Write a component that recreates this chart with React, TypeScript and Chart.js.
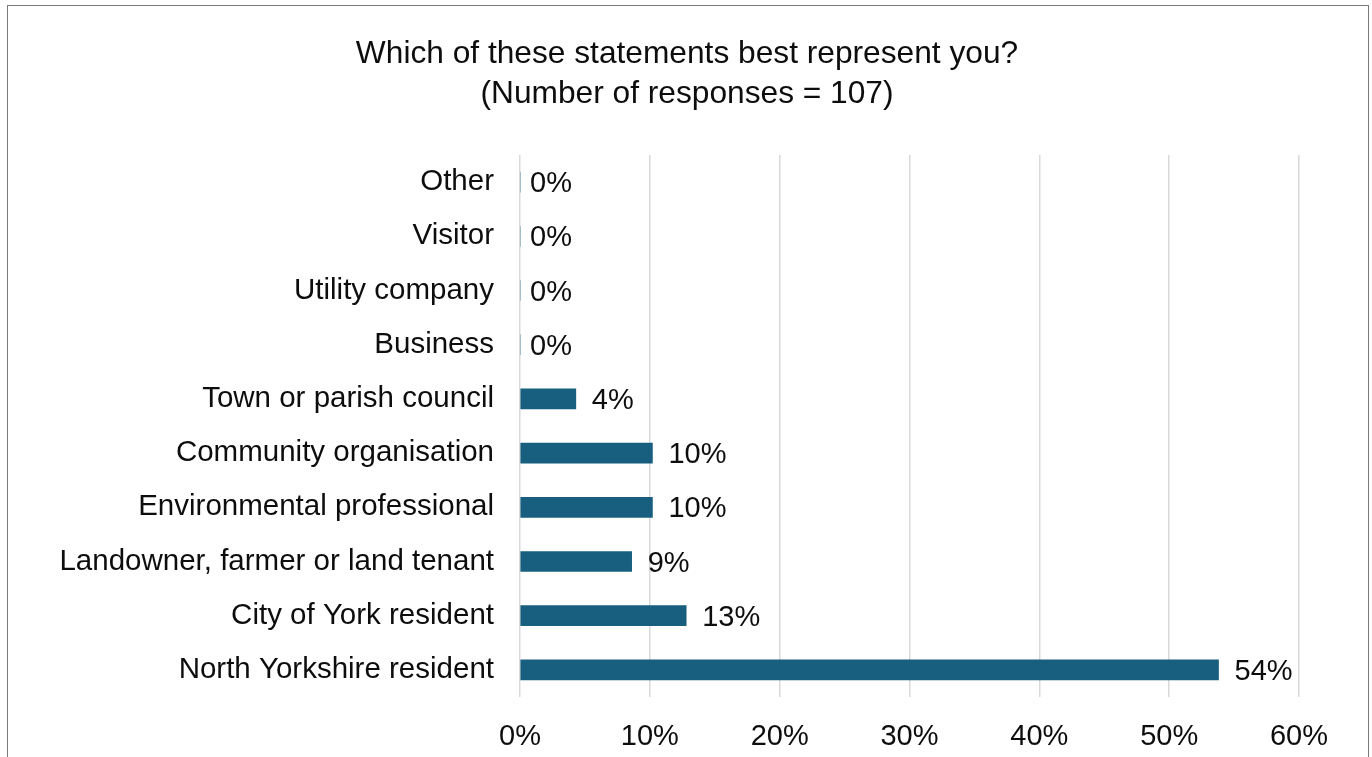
import React, { useEffect, useRef } from "react";
import { Chart, registerables } from "chart.js";

Chart.register(...registerables);

const categories = [
  "Other",
  "Visitor",
  "Utility company",
  "Business",
  "Town or parish council",
  "Community organisation",
  "Environmental professional",
  "Landowner, farmer or land tenant",
  "City of York resident",
  "North Yorkshire resident",
];
const percentages = [0, 0, 0, 0, 4.3, 10.2, 10.2, 8.6, 12.8, 53.8];
const xTicks = [0, 10, 20, 30, 40, 50, 60];
const titleLines = ["Which of these statements best represent you?", "(Number of responses = 107)"];

const FONT = "'Liberation Sans', Arial, sans-serif";
const TEXT = "#0d0d0d";

const valueLabels = {
  id: "valueLabels",
  afterDatasetsDraw(chart: any) {
    const ctx = chart.ctx;
    const meta = chart.getDatasetMeta(0);
    ctx.save();
    ctx.font = `29px ${FONT}`;
    ctx.fillStyle = TEXT;
    ctx.textAlign = "left";
    ctx.textBaseline = "middle";
    meta.data.forEach((el: any, i: number) => {
      const v = chart.data.datasets[0].data[i] as number;
      ctx.fillText(Math.round(v) + "%", el.x + (v > 0 ? 16 : 10), el.y + 2);
    });
    ctx.restore();
  },
};

const centeredTitle = {
  id: "centeredTitle",
  afterDraw(chart: any) {
    const ctx = chart.ctx;
    ctx.save();
    ctx.font = `31.7px ${FONT}`;
    ctx.fillStyle = TEXT;
    ctx.textAlign = "center";
    ctx.textBaseline = "middle";
    titleLines.forEach((line, i) => {
      ctx.fillText(line, chart.width / 2, 48 + i * 40);
    });
    ctx.restore();
  },
};

export default function App() {
  const ref = useRef<HTMLCanvasElement | null>(null);
  useEffect(() => {
    if (!ref.current) return;
    const chart = new Chart(ref.current, {
      type: "bar",
      data: {
        labels: categories,
        datasets: [
          {
            data: percentages,
            backgroundColor: "#175e7f",
            borderWidth: 0,
            barThickness: 20,
          },
        ],
      },
      options: {
        indexAxis: "y",
        animation: false,
        responsive: false,
        maintainAspectRatio: false,
        layout: { padding: { left: 0, right: 67, top: 149, bottom: 0 } },
        plugins: {
          legend: { display: false },
          tooltip: { enabled: false },
          title: { display: false },
        },
        scales: {
          x: {
            min: 0,
            max: 60,
            afterBuildTicks(scale: any) {
              scale.ticks = xTicks.map((v) => ({ value: v }));
            },
            afterFit(scale: any) {
              scale.height = 60;
            },
            ticks: {
              callback: (v: any) => v + "%",
              color: TEXT,
              font: { family: FONT, size: 29 },
              padding: 23,
              maxRotation: 0,
            },
            grid: { color: "#d9d9d9", lineWidth: 1.5, drawTicks: false },
            border: { display: false },
          },
          y: {
            afterFit(scale: any) {
              scale.width = 512;
            },
            ticks: {
              color: TEXT,
              font: { family: FONT, size: 29.5 },
              padding: 26,
            },
            grid: { display: false, drawTicks: false },
            border: { display: false },
          },
        },
      },
      plugins: [valueLabels, centeredTitle],
    });
    return () => chart.destroy();
  }, []);

  return (
    <div
      style={{
        position: "fixed",
        left: 7,
        top: 5,
        width: 1362,
        height: 800,
        border: "1.5px solid #7a7a7a",
        background: "#fff",
        boxSizing: "border-box",
      }}
    >
      <canvas
        ref={ref}
        width={1358}
        height={751}
        style={{ position: "absolute", left: 0, top: 0, width: 1358, height: 751 }}
      />
    </div>
  );
}
